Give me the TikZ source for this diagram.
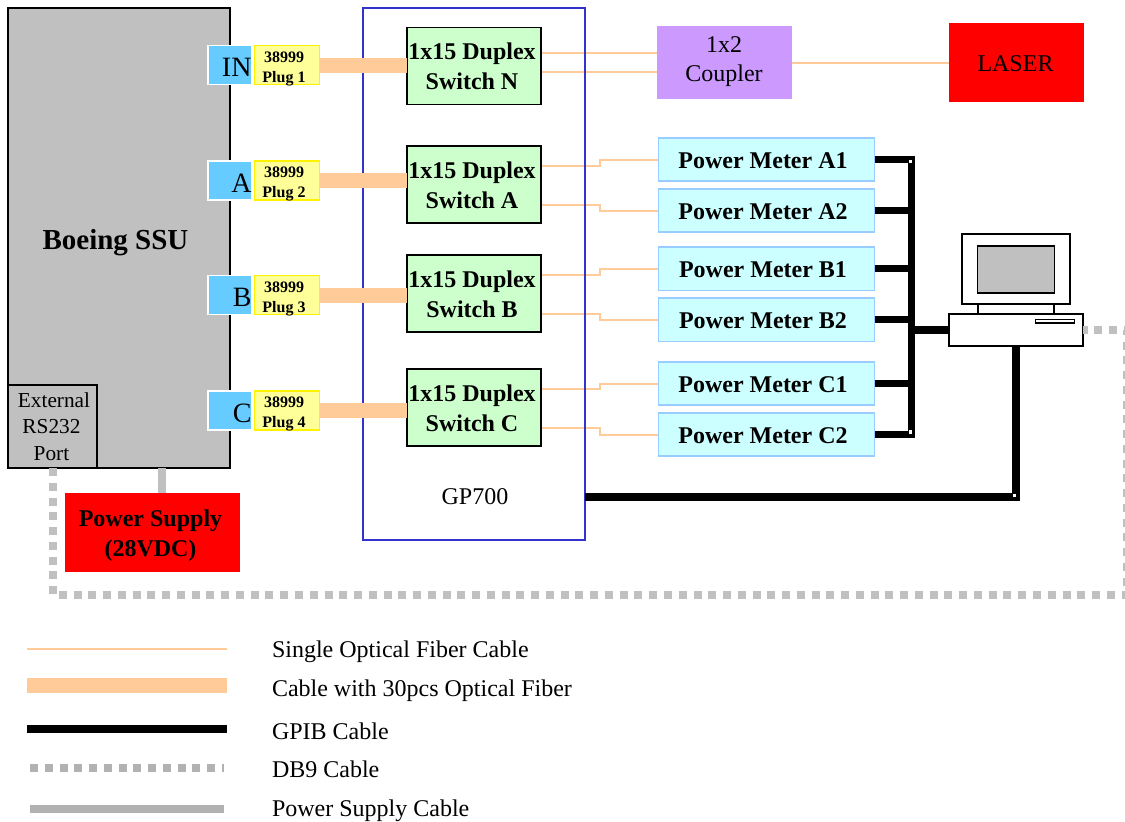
\documentclass[tikz,border=0pt]{standalone}
\usepackage{fontspec}
\setmainfont{Liberation Serif}
\usetikzlibrary{calc}
\pgfdeclarelayer{fib}\pgfdeclarelayer{frame}
\pgfsetlayers{fib,frame,main}
\definecolor{ssu}{HTML}{C0C0C0}
\definecolor{fiber}{HTML}{FFCC99}
\definecolor{portc}{HTML}{66CCFF}
\definecolor{plugc}{HTML}{FFFF99}
\definecolor{swc}{HTML}{CCFFCC}
\definecolor{meter}{HTML}{CCFFFF}
\definecolor{meterb}{HTML}{99CCFF}
\definecolor{coup}{HTML}{CC99FF}
\definecolor{gp}{HTML}{3333CC}
\definecolor{leggray}{HTML}{B2B2B2}
\newcommand{\lbl}[3]{\raisebox{#2}[0pt][0pt]{\hspace*{#1}\begin{tabular}[c]{@{}c@{}}#3\end{tabular}\hspace*{-#1}}}
\tikzset{
  x=1pt,y=-1pt,
  boxbase/.style={inner sep=0pt,outer sep=0pt,rectangle,align=center},
  ssubox/.style={boxbase,draw=black,line width=1.6pt,fill=ssu},
  portbox/.style={boxbase,draw=white,line width=1.6pt,fill=portc,minimum width=44pt,minimum height=39pt,font=\fontsize{28}{30}\selectfont},
  plugbox/.style={boxbase,draw=yellow,line width=1.4pt,fill=plugc,minimum width=65pt,minimum height=39pt,font=\fontsize{16}{20}\selectfont\bfseries},
  swbox/.style={boxbase,draw=black,line width=1.6pt,fill=swc,minimum width=134pt,minimum height=77pt,font=\fontsize{24}{30}\selectfont\bfseries},
  meterbox/.style={boxbase,draw=meterb,line width=1.6pt,fill=meter,minimum width=216pt,minimum height=43.5pt,font=\fontsize{24}{30}\selectfont\bfseries},
  txt/.style={inner sep=0pt,outer sep=0pt,font=\fontsize{24}{30}\selectfont},
  legtxt/.style={txt,anchor=base west},
  thinfiber/.style={draw=fiber,line width=2pt},
  thickfiber/.style={draw=fiber,line width=15pt},
  gpib/.style={draw=black,line width=7.5pt},
  db/.style={draw=ssu,line width=8pt,dash pattern=on 8pt off 6.76pt},
  pwr/.style={draw=ssu,line width=8pt},
  pcpart/.style={draw=black,line width=1.5pt,fill=white},
  dot/.style={fill=white,inner sep=0pt,minimum size=3.5pt,rectangle},
}
\begin{document}
\begin{tikzpicture}
\useasboundingbox (0,0) rectangle (1125,822);
\clip (0,0) rectangle (1125,822);
% frame of GP700
\begin{pgfonlayer}{frame}
\node[boxbase,draw=gp,line width=1.6pt,minimum width=222pt,minimum height=532pt] (gp700) at (474,274) {};
\end{pgfonlayer}
\node[txt] (gplabel) at (475,497) {GP700};
% SSU
\node[ssubox,minimum width=222pt,minimum height=460pt] (ssu) at (119,238) {};
\node[txt,font=\fontsize{29}{30}\selectfont\bfseries,anchor=base] (ssulabel) at (115.5,249) {Boeing SSU};
\node[ssubox,minimum width=89pt,minimum height=83pt,font=\fontsize{21.3}{26.5}\selectfont] (rs) at (52.5,426.5) {\lbl{-1pt}{-7pt}{\hspace*{5pt}External\\RS232\\Port}};
% ports and plugs
\foreach \n/\t/\y in {IN/IN/65,A/A/180.5,B/B/295,C/C/410.5}{
  \node[portbox,text width=43pt,align=right] (port\n) at (230,\y) {\lbl{0pt}{-12pt}{\t}};
}
\foreach \n/\k/\y in {IN/1/65,A/2/180.5,B/3/295,C/4/410.5}{
  \node[plugbox] (plug\n) at (287,\y) {\lbl{-3pt}{-7.5pt}{38999\\Plug \k}};
}
% switches
\node[swbox] (swN) at (474,66) {\lbl{-2pt}{-9pt}{1x15 Duplex\\Switch N}};
\node[swbox] (swA) at (474,184.5) {\lbl{-2pt}{-9pt}{1x15 Duplex\\Switch A}};
\node[swbox] (swB) at (474,293.5) {\lbl{-2pt}{-9pt}{1x15 Duplex\\Switch B}};
\node[swbox] (swC) at (474,407.5) {\lbl{-2pt}{-9pt}{1x15 Duplex\\Switch C}};
% thick cables
\draw[thickfiber] (plugIN.east) -- (plugIN.east -| swN.west);
\draw[thickfiber] (plugA.east) -- (plugA.east -| swA.west);
\draw[thickfiber] (plugB.east) -- (plugB.east -| swB.west);
\draw[thickfiber] (plugC.east) -- (plugC.east -| swC.west);
% coupler, laser
\node[boxbase,fill=coup,minimum width=135pt,minimum height=73pt,font=\fontsize{24}{29}\selectfont] (coupler) at (724.5,62.5) {\lbl{-0.5pt}{-5pt}{1x2\\Coupler}};
\node[boxbase,fill=red,minimum width=135pt,minimum height=79pt,font=\fontsize{24}{30}\selectfont] (laser) at (1016.5,62.5) {\lbl{-1pt}{-9.5pt}{LASER}};
% power meters
\node[meterbox] (mA1) at (766.5,159.5) {\lbl{-3.5pt}{-9pt}{Power Meter A1}};
\node[meterbox] (mA2) at (766.5,210.5) {\lbl{-3.5pt}{-9pt}{Power Meter A2}};
\node[meterbox] (mB1) at (766.5,268.7) {\lbl{-3.5pt}{-9pt}{Power Meter B1}};
\node[meterbox] (mB2) at (766.5,319.7) {\lbl{-3.5pt}{-9pt}{Power Meter B2}};
\node[meterbox] (mC1) at (766.5,383.5) {\lbl{-3.5pt}{-9pt}{Power Meter C1}};
\node[meterbox] (mC2) at (766.5,434.5) {\lbl{-3.5pt}{-9pt}{Power Meter C2}};
% power supply
\node[boxbase,fill=red,minimum width=175pt,minimum height=79pt,font=\fontsize{24}{30.5}\selectfont\bfseries] (psu) at (152.5,532.5) {\lbl{-2pt}{-9pt}{Power Supply\\(28VDC)}};
% thin fibres
\begin{pgfonlayer}{fib}
\draw[thinfiber] (swN.east |- 0,53) -- (coupler.west |- 0,53);
\draw[thinfiber] (swN.east |- 0,72) -- (coupler.west |- 0,72);
\draw[thinfiber] (coupler.east) -- (laser.west);
\foreach \s/\a/\b/\p/\q in {A/mA1/mA2/166/205,B/mB1/mB2/275/314,C/mC1/mC2/389/428}{
  \draw[thinfiber] (sw\s.east |- 0,\p) -- (599.5,\p) |- (\a.west);
  \draw[thinfiber] (sw\s.east |- 0,\q) -- (599.5,\q) |- (\b.west);
}
\end{pgfonlayer}
% computer
\node[boxbase,pcpart,minimum width=134pt,minimum height=32pt] (pc) at (1016,330) {};
\node[boxbase,pcpart,minimum width=76pt,minimum height=10pt] (neck) at (1016,309) {};
\node[boxbase,pcpart,minimum width=108pt,minimum height=70pt] (monitor) at (1016,269) {};
\node[boxbase,pcpart,fill=ssu,minimum width=77pt,minimum height=47pt] (screen) at (1016,269.5) {};
\node[boxbase,pcpart,minimum width=39pt,minimum height=3.5pt] (slot) at (1055,321) {};
% GPIB
\coordinate (busT) at (mA1.east -| 911.5,0);
\coordinate (busB) at (mC2.east -| 911.5,0);
\draw[gpib,line join=miter] (mA1.east) -- (busT) -- (busB) -- (mC2.east);
\foreach \m in {mA2,mB1,mB2,mC1}{ \draw[gpib] (\m.east) -- (\m.east -| busT); }
\draw[gpib] (pc.west) -- (pc.west -| busT);
\coordinate (gpc) at (1016,497);
\draw[gpib,line join=miter] (gp700.east |- gpc) -- (gpc) -- (pc.south);
\node[dot] (d1) at (910.5,161.5) {};
\node[dot] (d2) at (910.5,432) {};
\node[dot] (d3) at (1014.5,495.5) {};
% DB9
\coordinate (dbA) at (53,595);
\coordinate (dbB) at (1127,595);
\coordinate (dbC) at (1127,330);
\draw[db,dash phase=3.5pt] (pc.east) -- (dbC) -- (dbB) -- (dbA) -- (rs.south -| dbA);
% power
\draw[pwr] (psu.north -| 161.5,0) -- (ssu.south -| 161.5,0);
% legend
\coordinate (l1a) at (27,649); \coordinate (l1b) at (227,649);
\coordinate (l2a) at (27,685.5); \coordinate (l2b) at (227,685.5);
\coordinate (l3a) at (27,729); \coordinate (l3b) at (227,729);
\coordinate (l4a) at (30,768); \coordinate (l4b) at (224,768);
\coordinate (l5a) at (30,809); \coordinate (l5b) at (224,809);
\draw[thinfiber,line width=1.5pt] (l1a) -- (l1b);
\draw[thickfiber] (l2a) -- (l2b);
\draw[draw=black,line width=8pt] (l3a) -- (l3b);
\draw[db,draw=leggray] (l4a) -- (l4b);
\draw[pwr,draw=leggray] (l5a) -- (l5b);
\node[legtxt] (t1) at (272,657) {Single Optical Fiber Cable};
\node[legtxt] (t2) at (272,696) {Cable with 30pcs Optical Fiber};
\node[legtxt] (t3) at (272,739) {GPIB Cable};
\node[legtxt] (t4) at (272,777) {DB9 Cable};
\node[legtxt] (t5) at (272,816) {Power Supply Cable};
\end{tikzpicture}
\end{document}
